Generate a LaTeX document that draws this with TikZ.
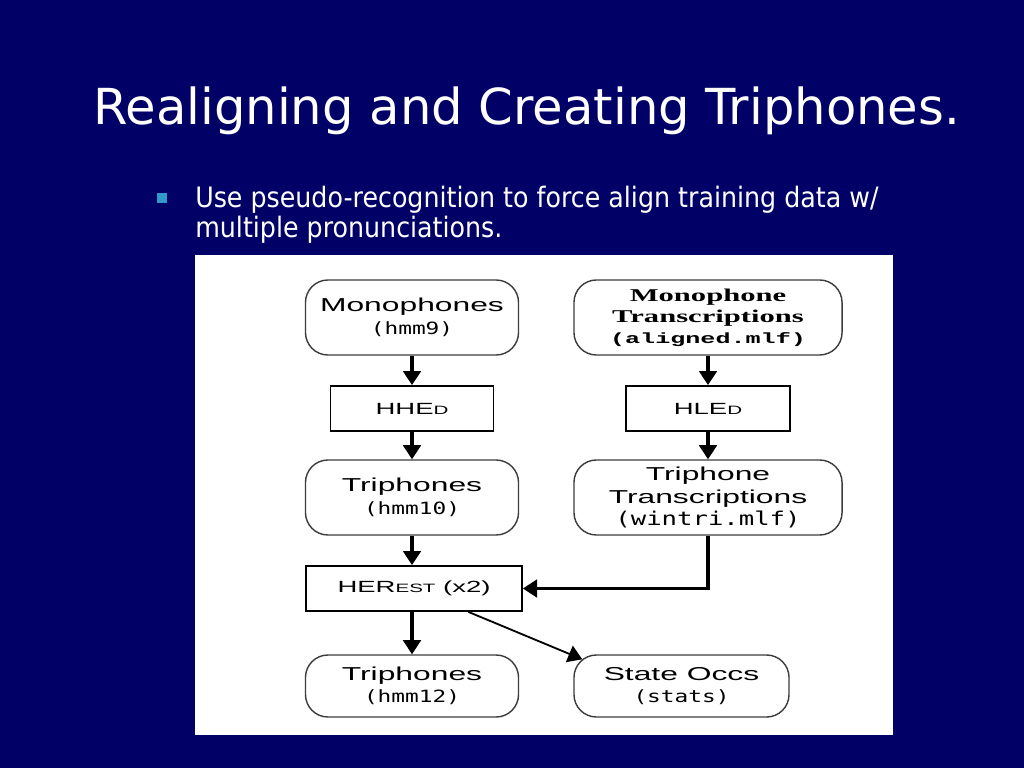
\documentclass[tikz,border=0pt]{standalone}
\usepackage{fontspec}
\setmainfont{DejaVu Sans}
\newfontfamily\pointfont[FakeStretch=0.9]{DejaVu Sans}
\newfontfamily\boxsans[FakeStretch=1.7]{Liberation Sans}
\newfontfamily\boxserif[FakeStretch=1.7]{Liberation Serif}
\newfontfamily\boxmono[FakeStretch=1.35]{DejaVu Sans Mono}
\newfontfamily\boxcour[FakeStretch=1.7]{Liberation Mono}
\newcommand\lowcaps[1]{{\fontsize{8.6}{10}\selectfont #1}}
\usetikzlibrary{arrows.meta,calc}
\definecolor{slidebg}{RGB}{0,0,102}
\definecolor{bulletblue}{RGB}{51,153,204}
\definecolor{boxgray}{RGB}{60,60,60}

\begin{document}
\begin{tikzpicture}[x=0.025cm,y=-0.025cm,
	store/.style={draw=boxgray,line width=1pt,rounded corners=16pt,fill=white,align=center,inner sep=0pt,minimum height=1.875cm,font=\boxsans\fontsize{13.3}{16}\selectfont},
	tool/.style={draw=black,line width=1.3pt,fill=white,inner sep=0pt,minimum height=1.125cm,font=\boxsans\fontsize{11.5}{14}\selectfont},
	flow/.style={line width=2.2pt,-{Triangle[length=10pt,width=12.5pt]}}]
	\fill[slidebg] (0,0) rectangle (1024,768);
	\fill[white] (195,255) rectangle (893,735);

	\node[anchor=base west,text=white,font=\fontsize{35.3}{40}\selectfont,inner sep=0pt] (title) at (93,125) {Realigning and Creating Triphones.};
	\node[fill=bulletblue,minimum size=0.25cm,inner sep=0pt] (dot) at (162,198) {};
	\node[anchor=base west,text=white,align=left,font=\pointfont\fontsize{20}{21.3}\selectfont,inner sep=0pt] (point) at (195,237) {Use pseudo-recognition to force align training data w/\\multiple pronunciations.};

	\node[store,minimum width=5.325cm] (mono) at (412,317.5) {Monophones\\{\boxmono\fontsize{12}{14}\selectfont (hmm9)}};
	\node[store,minimum width=6.7cm,font=\boxserif\bfseries\fontsize{12.8}{15}\selectfont] (monotr) at (708,317.5) {Monophone\\Transcriptions\\{\boxcour\bfseries\fontsize{10.5}{15}\selectfont (aligned.mlf)}};

	\node[tool,minimum width=4.075cm] (hhed) at (412,408.5) {HHE\lowcaps{D}};
	\node[tool,minimum width=4.1cm] (hled) at (708,408.5) {HLE\lowcaps{D}};

	\node[store,minimum width=5.325cm] (tri) at (412,497.5) {Triphones\\{\boxmono\fontsize{12}{14}\selectfont (hmm10)}};
	\node[store,minimum width=6.7cm] (tritr) at (708,497.5) {Triphone\\Transcriptions\\{\boxmono\fontsize{13.5}{15}\selectfont (wintri.mlf)}};

	\node[tool,minimum width=5.4cm] (herest) at (414,588.5) {HER\lowcaps{EST} (x2)};

	\node[store,minimum width=5.325cm,minimum height=1.55cm] (tri2) at (412,686) {Triphones\\{\boxmono\fontsize{12}{14}\selectfont (hmm12)}};
	\node[store,minimum width=5.375cm,minimum height=1.55cm] (occs) at (681.5,686) {State Occs\\{\boxmono\fontsize{12}{14}\selectfont (stats)}};

	\draw[flow] (mono) -- (hhed);
	\draw[flow] (hhed) -- (tri);
	\draw[flow] (monotr) -- (hled);
	\draw[flow] (hled) -- (tritr);
	\draw[flow] (tri.south) -- (tri.south |- herest.north);
	\draw[flow] (tritr.south) |- (herest.east);
	\draw[flow] (tri2.north |- herest.south) -- (tri2.north);
	\draw[flow,line width=1.3pt] ($(herest.south)!0.5!(herest.south east)$) -- ($(occs.north west)+(9,5)$);
\end{tikzpicture}
\end{document}
